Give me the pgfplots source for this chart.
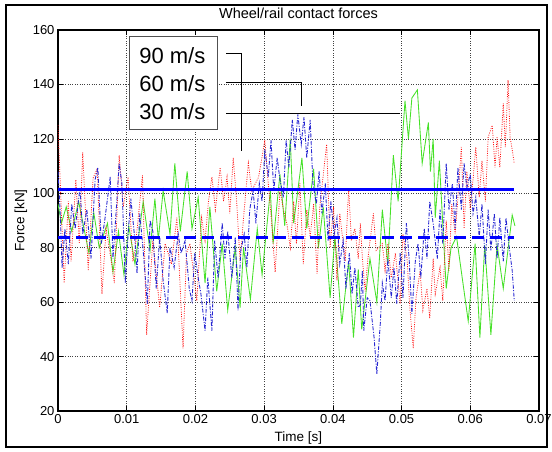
\documentclass[border=0pt]{standalone}
\usepackage{fontspec}
\setmainfont{Liberation Sans}
\usepackage{pgfplots}
\pgfplotsset{compat=1.18}

\definecolor{mgreen}{RGB}{70,225,40}
\definecolor{mred}{RGB}{255,20,20}
\definecolor{mblue}{RGB}{40,40,210}
\definecolor{boxgray}{RGB}{80,80,80}

\begin{document}
\begin{tikzpicture}
\useasboundingbox (-58bp,-41bp) rectangle (494bp,411bp);
\draw[line width=2bp] (-52bp,-36bp) rectangle (489bp,406bp);

\begin{axis}[
    at={(0,0)}, anchor=south west,
    scale only axis,
    width=481bp, height=381bp,
    xmin=0, xmax=0.07,
    ymin=20, ymax=160,
    xtick={0,0.01,0.02,0.03,0.04,0.05,0.06,0.07},
    xticklabels={0,0.01,0.02,0.03,0.04,0.05,0.06,0.07},
    ytick={20,40,60,80,100,120,140,160},
    scaled x ticks=false,
    /pgf/number format/assume math mode=true,
    tick align=inside,
    major tick length=5bp,
    tick style={black, line width=0.6bp},
    grid=major,
    major grid style={black!75, line width=0.5bp, dash pattern=on 0.8bp off 1.6bp},
    axis line style={line width=1.3bp},
    ticklabel style={font=\fontsize{13bp}{15bp}\selectfont},
    title={Wheel/rail contact forces},
    title style={font=\fontsize{14.5bp}{16bp}\selectfont, at={(axis description cs:0.5,1)}, anchor=center, yshift=11bp},
    xlabel={Time [s]},
    xlabel style={font=\fontsize{13.5bp}{15bp}\selectfont, at={(axis description cs:0.5,0)}, anchor=center, yshift=-27bp},
    ylabel={Force [kN]},
    ylabel style={font=\fontsize{13.5bp}{15bp}\selectfont, at={(axis description cs:0,0.5)}, anchor=center, yshift=37bp},
]

% 30 m/s
\addplot[mgreen, line width=0.85bp] coordinates {
(0,96) (0.0005,89) (0.0012,95) (0.0020,86) (0.0030,97) (0.0045,78) (0.0052,93)
(0.0060,80) (0.0072,89) (0.0080,71) (0.0088,86) (0.0096,70) (0.0103,88) (0.0112,74)
(0.0124,97) (0.0134,79) (0.0141,98) (0.0146,83) (0.0153,101) (0.0163,85) (0.0170,111)
(0.0178,86) (0.0188,108) (0.0195,87) (0.0204,98.5) (0.0214,67) (0.0221,95) (0.0231,64)
(0.0239,81.5) (0.0247,57) (0.0258,80) (0.0265,58) (0.0270,80) (0.0280,61) (0.0290,87)
(0.0297,70) (0.0309,101) (0.0313,81.5) (0.0323,107) (0.0330,88) (0.0338,120) (0.0343,89)
(0.0355,113) (0.0362,87) (0.0372,109) (0.0379,80) (0.0386,95) (0.0396,61.6) (0.0403,84)
(0.0413,52) (0.0423,75) (0.0430,47) (0.0437,72) (0.0442,50) (0.0454,76) (0.0464,60)
(0.0472,94) (0.0480,74) (0.0488,114) (0.0495,97) (0.0505,134) (0.0510,120) (0.0515,135)
(0.0523,138) (0.0530,111) (0.0539,126) (0.0542,108) (0.0546,120) (0.0549,91) (0.0555,112)
(0.0565,65) (0.0572,80) (0.0580,84) (0.0597,53) (0.0607,81.5) (0.0614,47) (0.0621,81)
(0.0630,48) (0.0639,81) (0.0648,65) (0.0661,92) (0.0665,88)
};

% 60 m/s
\addplot[mred, line width=0.8bp, dash pattern=on 0.9bp off 1.4bp] coordinates {
(0,125) (0.0009,67) (0.0015,97) (0.0019,75) (0.0026,105) (0.0031,81.5) (0.0036,115)
(0.0044,71.6) (0.0051,105.5) (0.0057,109) (0.0064,63) (0.0070,87) (0.0077,76) (0.0082,67)
(0.0089,114) (0.0095,95) (0.0102,106) (0.0109,75) (0.0112,79) (0.0123,106.6) (0.0129,48)
(0.0138,82.6) (0.0148,58) (0.0156,81.5) (0.0165,74) (0.0173,91) (0.0182,43) (0.0187,78)
(0.0192,81.5) (0.0202,60.5) (0.0209,91) (0.0214,82.6) (0.0219,97) (0.0224,106) (0.0229,94)
(0.0236,109.5) (0.0241,97) (0.0246,106) (0.0250,92.6) (0.0255,113) (0.0260,97) (0.0265,75)
(0.0270,91) (0.0277,111) (0.0282,101) (0.0292,106) (0.0301,119.5) (0.0306,103.6) (0.0311,89)
(0.0316,71) (0.0323,101) (0.0328,94) (0.0333,89) (0.0338,80) (0.0343,97) (0.0347,81.5)
(0.0352,103.6) (0.0357,74) (0.0362,94) (0.0367,84) (0.0372,96) (0.0377,70.5) (0.0381,95)
(0.0391,118) (0.0396,80) (0.0401,95) (0.0406,68) (0.0410,92.6) (0.0418,75) (0.0423,102)
(0.0427,82.6) (0.0432,87) (0.0437,76) (0.0440,89) (0.0443,76) (0.0447,64) (0.0451,76)
(0.0459,92.6) (0.0463,79) (0.0472,81.5) (0.0476,71.6) (0.0480,81.5) (0.0485,69) (0.0491,78)
(0.0498,59.4) (0.0502,85) (0.0508,76) (0.0512,58) (0.0517,43) (0.0521,61.6) (0.0527,71.6)
(0.0531,57) (0.0537,65) (0.0541,54) (0.0546,76) (0.0549,63) (0.0556,72.7) (0.0560,60.5)
(0.0565,90) (0.0569,71.6) (0.0573,96) (0.0578,85) (0.0582,98.5) (0.0587,117) (0.0591,87)
(0.0595,108) (0.0600,94) (0.0604,105) (0.0608,117) (0.0613,98.5) (0.0617,112) (0.0622,97)
(0.0626,120.6) (0.0632,125) (0.0636,109.5) (0.0639,120.6) (0.0643,109.5) (0.0648,133)
(0.0651,117) (0.0655,141.6) (0.0658,120.6) (0.0661,116) (0.0664,111)
};

% 90 m/s
\addplot[mblue, line width=0.9bp, dash pattern=on 4bp off 1.5bp on 1bp off 1.5bp] coordinates {
(0,108) (0.0003,94) (0.0006,72.7) (0.0010,87) (0.0015,74) (0.0020,96) (0.0025,87)
(0.0032,102) (0.0036,85) (0.0042,94) (0.0048,76) (0.0054,105) (0.0058,109.5) (0.0063,81.5)
(0.0068,90) (0.0076,106) (0.0080,76) (0.0086,98.5) (0.0089,111) (0.0093,103.6) (0.0098,67)
(0.0102,85) (0.0106,98) (0.0112,82.6) (0.0115,70.5) (0.0119,92.6) (0.0124,79) (0.0130,59.4)
(0.0134,90) (0.0138,86) (0.0143,65) (0.0148,84) (0.0153,68) (0.0159,56) (0.0163,80)
(0.0169,72.7) (0.0175,85) (0.0179,78) (0.0185,82.6) (0.0191,65) (0.0195,60.5) (0.0199,78)
(0.0204,69) (0.0208,63) (0.0214,49.5) (0.0218,69) (0.0224,49.5) (0.0228,82.6) (0.0233,69)
(0.0239,89) (0.0243,76) (0.0247,86) (0.0253,69) (0.0258,84) (0.0262,57) (0.0266,79)
(0.0271,85) (0.0275,72.7) (0.0279,94) (0.0284,101) (0.0288,89) (0.0293,103.6) (0.0297,97)
(0.0301,116) (0.0306,106) (0.0310,119.5) (0.0314,101) (0.0319,113) (0.0323,105) (0.0328,98.5)
(0.0332,119.5) (0.0336,109.5) (0.0341,127) (0.0345,116) (0.0349,129) (0.0354,118) (0.0358,128)
(0.0362,113) (0.0367,127) (0.0371,103.6) (0.0376,96) (0.0380,108) (0.0384,92.6) (0.0389,103.6)
(0.0393,82.6) (0.0397,97) (0.0402,85) (0.0406,91) (0.0410,74) (0.0415,82.6) (0.0419,65)
(0.0424,78) (0.0428,63) (0.0432,72.7) (0.0437,58) (0.0440,59) (0.0443,71.6) (0.0445,49.5)
(0.0450,61.6) (0.0454,60.5) (0.0460,47) (0.0464,33.6) (0.0469,52) (0.0472,67) (0.0476,60.5)
(0.0480,76) (0.0485,61.6) (0.0489,72.7) (0.0493,59.4) (0.0498,78) (0.0502,61.6) (0.0507,89)
(0.0511,76) (0.0515,55.7) (0.0520,75) (0.0524,81.5) (0.0528,69) (0.0533,87) (0.0537,76)
(0.0541,97) (0.0546,89) (0.0552,76) (0.0556,94) (0.0560,81.5) (0.0565,111) (0.0569,94)
(0.0574,103.6) (0.0578,87) (0.0582,109.5) (0.0587,94) (0.0591,111) (0.0595,102) (0.0600,107)
(0.0604,92.6) (0.0608,98.5) (0.0613,84) (0.0617,96) (0.0622,74) (0.0626,94) (0.0630,79)
(0.0635,92.6) (0.0639,76) (0.0643,91) (0.0648,75) (0.0652,91) (0.0656,81.5) (0.0661,71.6)
(0.0664,60.5)
};

% mean levels
\addplot[blue, line width=3bp] coordinates {(0,101.4) (0.0664,101.4)};
\addplot[blue, line width=3bp, dash pattern=on 12bp off 6bp] coordinates {(0,83.8) (0.0664,83.8)};

% legend box with leader lines
\draw[boxgray, line width=0.9bp, fill=white] (axis cs:0.01033,123.5) rectangle (axis cs:0.02314,157.8);
\node[anchor=west, font=\fontsize{22bp}{24bp}\selectfont, inner sep=0pt] at (axis cs:0.0118,150.6) {90 m/s};
\node[anchor=west, font=\fontsize{22bp}{24bp}\selectfont, inner sep=0pt] at (axis cs:0.0118,140.3) {60 m/s};
\node[anchor=west, font=\fontsize{22bp}{24bp}\selectfont, inner sep=0pt] at (axis cs:0.0118,129.9) {30 m/s};
\draw[black, line width=0.8bp] (axis cs:0.02445,151.4) -- (axis cs:0.02674,151.4) -- (axis cs:0.02674,115.4);
\draw[black, line width=0.8bp] (axis cs:0.02445,140.6) -- (axis cs:0.03547,140.6) -- (axis cs:0.03547,132);
\draw[black, line width=0.8bp] (axis cs:0.02445,129.5) -- (axis cs:0.04978,129.5);

\end{axis}
\end{tikzpicture}
\end{document}
